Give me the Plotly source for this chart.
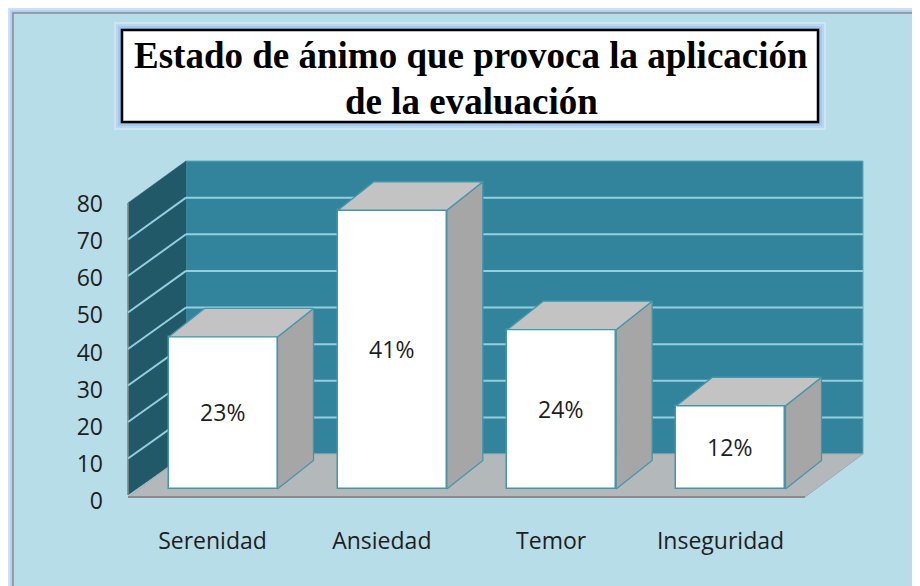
import plotly.graph_objects as go

# ---------------- data ----------------
categories = ["Serenidad", "Ansiedad", "Temor", "Inseguridad"]
values = [42, 77, 44, 23]
pct_labels = ["23%", "41%", "24%", "12%"]
y_ticks = [0, 10, 20, 30, 40, 50, 60, 70, 80]
title_lines = ["Estado de ánimo que provoca la aplicación", "de la evaluación"]

# ---------------- geometry (screen pixels) ----------------
W, H = 920, 586
BODY = 8                                       # page body margin offset
PL, PR, PT, PB = 128, 863, 161, 515            # plot area (screen)
CX0, CSTEP = 223.0, 169.33                     # category centre pixel / step
BAR0, BSCALE = 489.0, 3.62                     # bar plane: zero pixel, px per unit
LAB0, LSCALE = 501.0, 3.7125                   # tick label plane
BAR_W = 109 / CSTEP
DDX = 36 / CSTEP
DDY = 28.5 / BSCALE
LABEL_SHIFT = 10.5 / CSTEP                     # category labels sit left of bars

xr = [(PL - CX0) / CSTEP, (PR - CX0) / CSTEP]
yr = [(BAR0 - PB) / BSCALE, (BAR0 - PT) / BSCALE]
y2r = [(LAB0 - PB) / LSCALE, (LAB0 - PT) / LSCALE]

SANS = "Open Sans"
TXT = "#1e1e1e"


def fx(px):
    return (px - PL) / (PR - PL)


def fy(py):
    return (PB - py) / (PB - PT)


def poly(pts):
    return "M " + " L ".join(f"{fx(a):.5f},{fy(b):.5f}" for a, b in pts) + " Z"


shapes = []
# outer glow + chart area
for off, col in [(8, "#cfe0f6"), (10, "#b9d3f2"), (11.5, "#a9c8ee")]:
    shapes.append(dict(type="rect", xref="paper", yref="paper", layer="below",
                       x0=fx(off), x1=fx(W + 40), y0=fy(off), y1=fy(H + 40),
                       fillcolor=col, line=dict(width=0)))
shapes.append(dict(type="rect", xref="paper", yref="paper", layer="below",
                   x0=fx(13), x1=fx(W + 40), y0=fy(13), y1=fy(H + 40),
                   fillcolor="#b7dde8", line=dict(color="#8c8c8c", width=1.5)))
# title box glow + box
TB = (122, 30, 818, 122)
for off, col in [(8, "#cfe4f2"), (6, "#bad7f0"), (4, "#a3c9ec"), (2, "#8cbce8")]:
    shapes.append(dict(type="rect", xref="paper", yref="paper", layer="below",
                       x0=fx(TB[0] - off), x1=fx(TB[2] + off),
                       y0=fy(TB[1] - off), y1=fy(TB[3] + off),
                       fillcolor=col, line=dict(width=0)))
shapes.append(dict(type="rect", xref="paper", yref="paper", layer="below",
                   x0=fx(TB[0]), x1=fx(TB[2]), y0=fy(TB[1]), y1=fy(TB[3]),
                   fillcolor="white", line=dict(color="black", width=2.5)))

# walls
BW_L, BW_R, BW_T, BW_B = 186, 863, 161, 454
SW_FX, SW_FT, SW_FB = 128, 203, 495
FL_FY, FL_FR = 497, 805
shapes.append(dict(type="path", xref="paper", yref="paper", layer="below",
                   path=poly([(BW_L, BW_T), (BW_R, BW_T), (BW_R, BW_B), (BW_L, BW_B)]),
                   fillcolor="#31849b", line=dict(color="#5fa9bd", width=1)))
shapes.append(dict(type="path", xref="paper", yref="paper", layer="below",
                   path=poly([(SW_FX, SW_FT), (BW_L, BW_T), (BW_L, BW_B), (SW_FX, SW_FB)]),
                   fillcolor="#215968", line=dict(color="#215968", width=0.5)))
shapes.append(dict(type="line", xref="paper", yref="paper", layer="below",
                   x0=fx(SW_FX), x1=fx(SW_FX), y0=fy(SW_FT), y1=fy(SW_FB),
                   line=dict(color="#8c8c8c", width=1.5)))
# gridlines
for k in y_ticks[1:-1]:
    yb = BW_B - k * (BW_B - BW_T) / 80
    yf = SW_FB - k * (SW_FB - SW_FT) / 80
    shapes.append(dict(type="line", xref="paper", yref="paper", layer="below",
                       x0=fx(SW_FX), x1=fx(BW_L), y0=fy(yf), y1=fy(yb),
                       line=dict(color="#95cfdf", width=2)))
    shapes.append(dict(type="line", xref="paper", yref="paper", layer="below",
                       x0=fx(BW_L), x1=fx(BW_R), y0=fy(yb), y1=fy(yb),
                       line=dict(color="#95cfdf", width=2)))
# floor
shapes.append(dict(type="path", xref="paper", yref="paper", layer="below",
                   path=poly([(SW_FX, FL_FY), (FL_FR, FL_FY), (BW_R, BW_B), (BW_L, BW_B)]),
                   fillcolor="#b3b8bb", line=dict(color="#a4a9ac", width=1)))
shapes.append(dict(type="line", xref="paper", yref="paper", layer="below",
                   x0=fx(SW_FX), x1=fx(FL_FR), y0=fy(FL_FY), y1=fy(FL_FY),
                   line=dict(color="#8a8a8a", width=2)))

# ---------------- traces ----------------
xpos = list(range(len(categories)))
top_x, top_y, side_x, side_y = [], [], [], []
for i, v in zip(xpos, values):
    xl, xrr = i - BAR_W / 2, i + BAR_W / 2
    top_x += [xl, xrr, xrr + DDX, xl + DDX, xl, None]
    top_y += [v, v, v + DDY, v + DDY, v, None]
    side_x += [xrr, xrr + DDX, xrr + DDX, xrr, xrr, None]
    side_y += [0, DDY, v + DDY, v, 0, None]

edge = "#4596ab"
fig = go.Figure()
fig.add_trace(go.Scatter(x=side_x, y=side_y, fill="toself", fillcolor="#a6a6a6",
                         mode="lines", line=dict(color=edge, width=1.3),
                         hoverinfo="skip", showlegend=False))
fig.add_trace(go.Scatter(x=top_x, y=top_y, fill="toself", fillcolor="#c3c3c3",
                         mode="lines", line=dict(color=edge, width=1.3),
                         hoverinfo="skip", showlegend=False))
fig.add_trace(go.Bar(x=xpos, y=values, width=BAR_W, base=0,
                     marker=dict(color="white", line=dict(color=edge, width=1.5)),
                     text=pct_labels, textposition="inside", insidetextanchor="middle",
                     textangle=0,
                     textfont=dict(family=SANS, size=23, color=TXT),
                     hoverinfo="skip", showlegend=False))
fig.add_trace(go.Scatter(x=[None], y=[None], yaxis="y2", mode="markers",
                         hoverinfo="skip", showlegend=False))

annotations = []
for txt, yc in zip(title_lines, [56, 101]):
    annotations.append(dict(text=f"<b>{txt}</b>", xref="paper", yref="paper",
                            x=fx(471), y=fy(yc), xanchor="center", yanchor="middle",
                            showarrow=False,
                            font=dict(family="Liberation Serif", size=37, color="black")))

fig.update_layout(
    width=W, height=H, autosize=False,
    margin=dict(l=PL - BODY, r=W - PR + BODY, t=PT - BODY, b=H - PB + BODY, pad=0),
    paper_bgcolor="#e4eefa", plot_bgcolor="rgba(0,0,0,0)",
    shapes=shapes, annotations=annotations,
    bargap=0, showlegend=False,
    xaxis=dict(range=xr, tickvals=[p - LABEL_SHIFT for p in xpos], ticktext=categories,
               showgrid=False, zeroline=False, showline=False, ticks="",
               ticklabelstandoff=10,
               tickfont=dict(family=SANS, size=23, color=TXT),
               fixedrange=True),
    yaxis=dict(range=yr, visible=False, fixedrange=True),
    yaxis2=dict(range=y2r, overlaying="y", side="left", tickvals=y_ticks,
                showgrid=False, zeroline=False, showline=False, ticks="",
                ticklabelstandoff=24,
                tickfont=dict(family=SANS, size=23, color=TXT),
                fixedrange=True),
)

fig.write_html("out.html")
